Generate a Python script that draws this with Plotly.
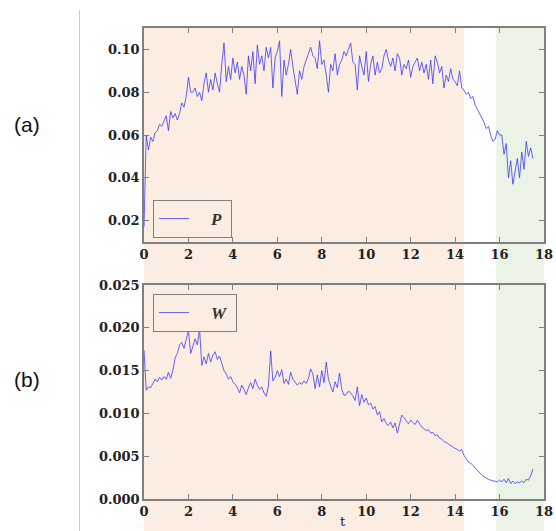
import numpy as np
import plotly.graph_objects as go

t = np.round(np.arange(0, 17.55, 0.1), 2)

P = [0.017, 0.060, 0.053, 0.059, 0.057, 0.061, 0.062, 0.065, 0.064, 0.067,
     0.069, 0.062, 0.071, 0.068, 0.070, 0.067, 0.070, 0.075, 0.073, 0.078,
     0.087, 0.080, 0.080, 0.082, 0.078, 0.080, 0.076, 0.084, 0.089, 0.080,
     0.086, 0.081, 0.089, 0.084, 0.080, 0.093, 0.103, 0.085, 0.092, 0.086,
     0.096, 0.089, 0.094, 0.086, 0.092, 0.088, 0.079, 0.097, 0.090, 0.099,
     0.084, 0.102, 0.093, 0.097, 0.090, 0.101, 0.096, 0.101, 0.082, 0.096,
     0.099, 0.104, 0.078, 0.095, 0.088, 0.093, 0.100, 0.092, 0.086, 0.079,
     0.090, 0.086, 0.092, 0.095, 0.098, 0.101, 0.097, 0.096, 0.091, 0.104,
     0.093, 0.095, 0.088, 0.080, 0.093, 0.090, 0.098, 0.088, 0.093, 0.095,
     0.099, 0.097, 0.100, 0.103, 0.094, 0.093, 0.081, 0.097, 0.092, 0.088,
     0.099, 0.085, 0.093, 0.097, 0.088, 0.094, 0.089, 0.091, 0.097, 0.100,
     0.095, 0.092, 0.096, 0.090, 0.098, 0.096, 0.088, 0.093, 0.091, 0.095,
     0.087, 0.092, 0.094, 0.096, 0.090, 0.094, 0.089, 0.093, 0.086, 0.095,
     0.084, 0.097, 0.094, 0.089, 0.092, 0.082, 0.088, 0.085, 0.091, 0.086,
     0.085, 0.083, 0.090, 0.082, 0.081, 0.079, 0.080, 0.077, 0.078, 0.074,
     0.072, 0.070, 0.068, 0.066, 0.063, 0.064, 0.060, 0.057, 0.058, 0.062,
     0.060, 0.060, 0.051, 0.056, 0.040, 0.048, 0.037, 0.043, 0.049, 0.040,
     0.052, 0.044, 0.057, 0.050, 0.054, 0.049]

W = [0.0174, 0.0127, 0.0131, 0.0130, 0.0135, 0.0140, 0.0137, 0.0142, 0.0139, 0.0143,
     0.0140, 0.0148, 0.0141, 0.0150, 0.0165, 0.0170, 0.0180, 0.0183, 0.0176, 0.0186,
     0.0197, 0.0170, 0.0178, 0.0187, 0.0180, 0.0199, 0.0156, 0.0166, 0.0158, 0.0170,
     0.0160, 0.0168, 0.0172, 0.0163, 0.0167, 0.0157, 0.0150, 0.0146, 0.0140, 0.0143,
     0.0137, 0.0134, 0.0130, 0.0124, 0.0133, 0.0128, 0.0122, 0.0130, 0.0136, 0.0129,
     0.0140, 0.0133, 0.0128, 0.0131, 0.0124, 0.0120, 0.0132, 0.0173, 0.0138, 0.0142,
     0.0150, 0.0143, 0.0151, 0.0135, 0.0140, 0.0134, 0.0148, 0.0140, 0.0136, 0.0133,
     0.0136, 0.0134, 0.0138, 0.0135, 0.0141, 0.0152, 0.0146, 0.0129, 0.0145, 0.0131,
     0.0150, 0.0136, 0.0160, 0.0140, 0.0132, 0.0125, 0.0137, 0.0130, 0.0147, 0.0128,
     0.0121, 0.0122, 0.0126, 0.0124, 0.0120, 0.0115, 0.0131, 0.0109, 0.0122, 0.0113,
     0.0118, 0.0110, 0.0112, 0.0105, 0.0108, 0.0098, 0.0102, 0.0090, 0.0094, 0.0088,
     0.0086, 0.0090, 0.0083, 0.0089, 0.0077, 0.0088, 0.0098, 0.0095, 0.0091, 0.0088,
     0.0092, 0.0090, 0.0087, 0.0092, 0.0088, 0.0084, 0.0082, 0.0080, 0.0081, 0.0077,
     0.0078, 0.0074, 0.0075, 0.0071, 0.0070, 0.0067, 0.0066, 0.0064, 0.0063, 0.0061,
     0.0059, 0.0058, 0.0056, 0.0058, 0.0051, 0.0047, 0.0043, 0.0042, 0.0039, 0.0036,
     0.0033, 0.0031, 0.0028, 0.0026, 0.0024, 0.0023, 0.0022, 0.0021, 0.0021, 0.0020,
     0.0022, 0.0020, 0.0023, 0.0019, 0.0024, 0.0018, 0.0021, 0.0018, 0.0020, 0.0019,
     0.0021, 0.0019, 0.0023, 0.0022, 0.0027, 0.0035]

x_ticks = list(range(0, 19, 2))
p_ticks = [0.02, 0.04, 0.06, 0.08, 0.10]
w_ticks = [0.000, 0.005, 0.010, 0.015, 0.020, 0.025]
phase1 = [0, 14.4]
phase2 = [15.85, 18]
panel_labels = ["(a)", "(b)"]

W_PX, H_PX = 556, 531
def px_x(v):
    return v / W_PX
def px_y(v):
    return 1 - v / H_PX

line_col = "rgba(50,50,250,0.75)"
axis_col = "#808080"
tick_font = dict(family="DejaVu Serif", size=13, color="#222", weight="bold")

fig = go.Figure()
fig.add_trace(go.Scatter(x=t, y=P, mode="lines",
                         name="&nbsp;&nbsp;&nbsp;&nbsp;<b><i>P</i></b>&nbsp;",
                         line=dict(color=line_col, width=1), xaxis="x", yaxis="y",
                         legend="legend"))
fig.add_trace(go.Scatter(x=t, y=W, mode="lines",
                         name="&nbsp;&nbsp;&nbsp;&nbsp;<b><i>W</i></b>&nbsp;",
                         line=dict(color=line_col, width=1), xaxis="x2", yaxis="y2",
                         legend="legend2"))

xdom = [px_x(144), px_x(544)]
common_ax = dict(showgrid=False, zeroline=False, showline=True, linecolor=axis_col,
                 linewidth=1.5, mirror="ticks", ticks="inside", ticklen=5,
                 tickcolor=axis_col, tickwidth=1, tickfont=tick_font, automargin=False)

leg_font = dict(family="Liberation Serif", size=17, color="#333")
fig.update_layout(
    width=W_PX, height=H_PX, margin=dict(l=0, r=0, t=0, b=0, autoexpand=False),
    paper_bgcolor="white", plot_bgcolor="rgba(0,0,0,0)",
    xaxis=dict(domain=xdom, range=[0, 18], tickvals=x_ticks, anchor="y", **common_ax),
    yaxis=dict(domain=[px_y(242), px_y(28)], range=[0.01, 0.11], tickvals=p_ticks,
               tickformat=".2f", anchor="x", **common_ax),
    xaxis2=dict(domain=xdom, range=[0, 18], tickvals=x_ticks, anchor="y2", **common_ax),
    yaxis2=dict(domain=[px_y(499), px_y(285)], range=[0, 0.025], tickvals=w_ticks,
                tickformat=".3f", anchor="x2", **common_ax),
    legend=dict(x=px_x(153), y=px_y(200), xanchor="left", yanchor="top",
                bgcolor="rgba(252,237,227,1)", bordercolor=axis_col, borderwidth=1,
                font=leg_font),
    legend2=dict(x=px_x(153), y=px_y(294), xanchor="left", yanchor="top",
                 bgcolor="rgba(252,237,227,1)", bordercolor=axis_col, borderwidth=1,
                 font=leg_font),
    showlegend=True,
)

shapes = [
    dict(type="rect", xref="x", yref="paper", x0=phase1[0], x1=phase1[1],
         y0=0, y1=px_y(28), fillcolor="#fcede3", line=dict(width=0), layer="below"),
    dict(type="rect", xref="x", yref="paper", x0=phase2[0], x1=phase2[1],
         y0=0, y1=px_y(28), fillcolor="#eaf3e6", line=dict(width=0), layer="below"),
    dict(type="line", xref="paper", yref="paper", x0=px_x(79.5), x1=px_x(79.5),
         y0=0, y1=px_y(10), line=dict(color="#cccccc", width=1)),
]
fig.update_layout(shapes=shapes)

fig.add_annotation(text=panel_labels[0], xref="paper", yref="paper", x=px_x(27), y=px_y(124),
                   xanchor="center", yanchor="middle",
                   showarrow=False, font=dict(family="Liberation Sans", size=21, color="#111"))
fig.add_annotation(text=panel_labels[1], xref="paper", yref="paper", x=px_x(27), y=px_y(379),
                   xanchor="center", yanchor="middle",
                   showarrow=False, font=dict(family="Liberation Sans", size=21, color="#111"))
fig.add_annotation(text="t", xref="paper", yref="paper", x=px_x(343), y=px_y(521),
                   xanchor="center", yanchor="middle",
                   showarrow=False, font=dict(family="DejaVu Serif", size=13, color="#222"))

fig.write_html("out.html")
